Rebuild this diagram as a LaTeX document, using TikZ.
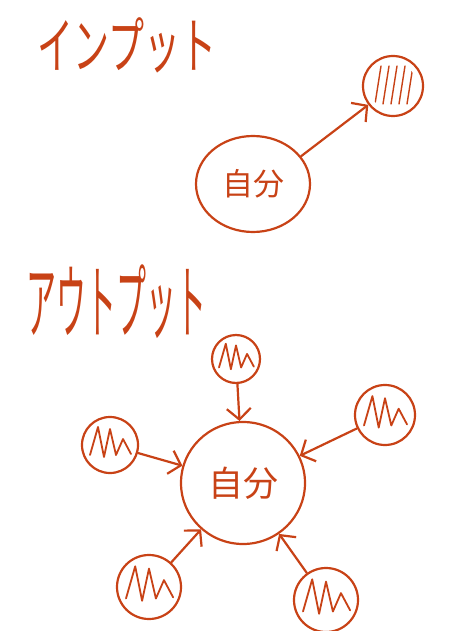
\documentclass[tikz,border=0pt]{standalone}
\usepackage{fontspec}
\newfontfamily\jp{Noto Sans CJK JP}
\usetikzlibrary{arrows.meta,shapes.geometric,positioning}
\definecolor{pen}{RGB}{200,66,22}

\begin{document}
\begin{tikzpicture}[x=1pt,y=-1pt,line width=2.2pt,
  ink/.style={draw=pen,line cap=round,line join=round},
  self/.style={ink,ellipse,inner sep=0pt,text=pen,font=\jp\fontsize{31}{31}\selectfont},
  ball/.style={ink,circle,inner sep=0pt,minimum size=#1},
  arr/.style={ink,-{Straight Barb[length=11pt,width=24pt]}},
  title/.style={text=pen,inner sep=0pt,font=\jp\fontsize{36}{36}\selectfont,yscale=1.7},
  scrib/.style={ink,line width=1.8pt}]
\useasboundingbox (0,0) rectangle (470,631);

% input
\node[title] (intitle) at (127,45) {インプット};
\node[self,minimum width=114pt,minimum height=96pt] (self1) at (253,184) {自分};
\node[ball=60pt] (in1) at (393,86) {};
\draw[arr] (self1.30) -- (in1);
\begin{scope}
  \clip (in1.center) circle (24pt);
  \foreach \d in {-15,-7,1,9,17}
    \draw[scrib,line width=1.4pt] ([shift={(\d+3,-20)}]in1.center) -- ++(-6,38);
\end{scope}

% output
\node[title,font=\jp\fontsize{30}{30}\selectfont,yscale=1.6] (outtitle) at (116,302) {アウトプット};
\node[self,minimum width=124pt,minimum height=122pt,font=\jp\fontsize{35}{35}\selectfont] (self2) at (243,483) {自分};
\node[ball=48pt] (top) at (236,359) {};
\node[ball=60pt] (ne) at (385,415) {};
\node[ball=56pt] (w) at (110,445) {};
\node[ball=64pt] (sw) at (149,587) {};
\node[ball=64pt] (se) at (326,600) {};
\foreach \s/\k in {top/0.85,ne/1.05,w/1,sw/1.15,se/1.15} {
  \draw[arr] (\s) -- (self2);
  \draw[scrib,shift={(\s.center)},scale=\k] (-20,10) -- (-12,-18) -- (-6,12)
    -- (0,-16) -- (6,10) -- (13,-6) -- (21,9);
}
\end{tikzpicture}
\end{document}
